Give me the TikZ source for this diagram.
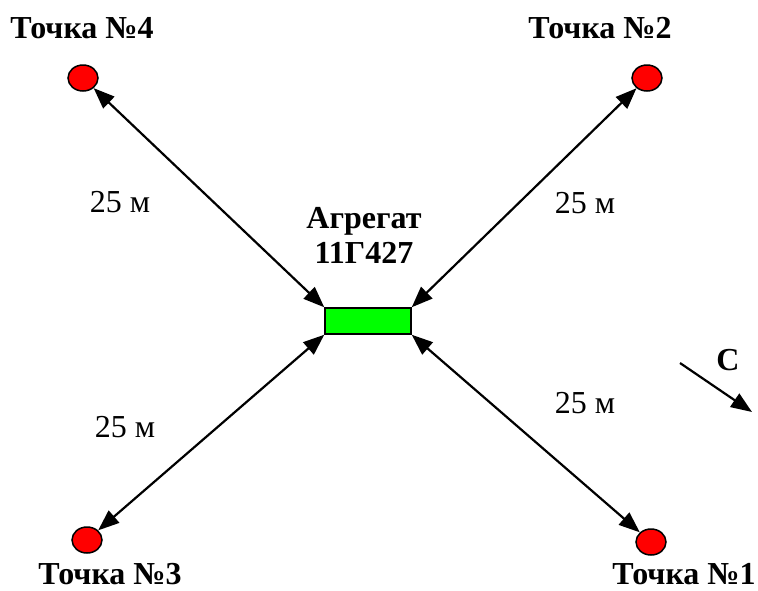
\documentclass[tikz,border=0pt]{standalone}
\usepackage{fontspec}
\setmainfont{Liberation Serif}
\usetikzlibrary{arrows.meta,shapes.geometric}
\definecolor{ptred}{RGB}{255,0,0}
\definecolor{agggreen}{RGB}{0,255,0}
\tikzset{
  pt/.style={ellipse,draw=black,line width=1.5pt,fill=ptred,minimum width=30pt,minimum height=26pt,inner sep=0pt},
  aggbox/.style={rectangle,draw=black,line width=1.5pt,fill=agggreen,minimum width=86pt,minimum height=26pt,inner sep=0pt},
  lbl/.style={anchor=base,inner sep=0pt,font=\fontsize{32}{35}\selectfont\bfseries},
  dist/.style={anchor=base,inner sep=0pt,font=\fontsize{32}{35}\selectfont},
  conn/.style={line width=2.2pt,{Triangle[length=21pt,width=16pt]}-{Triangle[length=21pt,width=16pt]}},
  dirarrow/.style={line width=2.2pt,-{Triangle[length=21pt,width=16pt]}}
}
\begin{document}
\begin{tikzpicture}[x=1pt,y=-1pt]
\useasboundingbox (0,0) rectangle (758,590);
% points
\node[pt] (c4) at (83,78) {};
\node[pt] (c2) at (647,78) {};
\node[pt] (c3) at (87,540) {};
\node[pt] (c1) at (651,542) {};
% unit
\node[aggbox] (agg) at (368,321) {};
% labels
\node[lbl] (t4) at (82,38) {Точка №4};
\node[lbl] (t2) at (600,38) {Точка №2};
\node[lbl] (t3) at (110,584) {Точка №3};
\node[lbl] (t1) at (684,584) {Точка №1};
\node[lbl] (agg1) at (364,228) {Агрегат};
\node[lbl] (agg2) at (364,263) {11Г427};
\node[dist] (d1) at (120,212) {25 м};
\node[dist] (d2) at (585,213) {25 м};
\node[dist] (d3) at (125,437) {25 м};
\node[dist] (d4) at (585,413) {25 м};
\node[lbl] (north) at (728,370) {С};
% connectors
\draw[conn] (c4) -- (agg.north west);
\draw[conn] (c2) -- (agg.north east);
\draw[conn] (c3) -- (agg.south west);
\draw[conn] (c1) -- (agg.south east);
% direction arrow
\coordinate (cs) at (680,363);
\coordinate (ce) at (752,412);
\draw[dirarrow] (cs) -- (ce);
\end{tikzpicture}
\end{document}
